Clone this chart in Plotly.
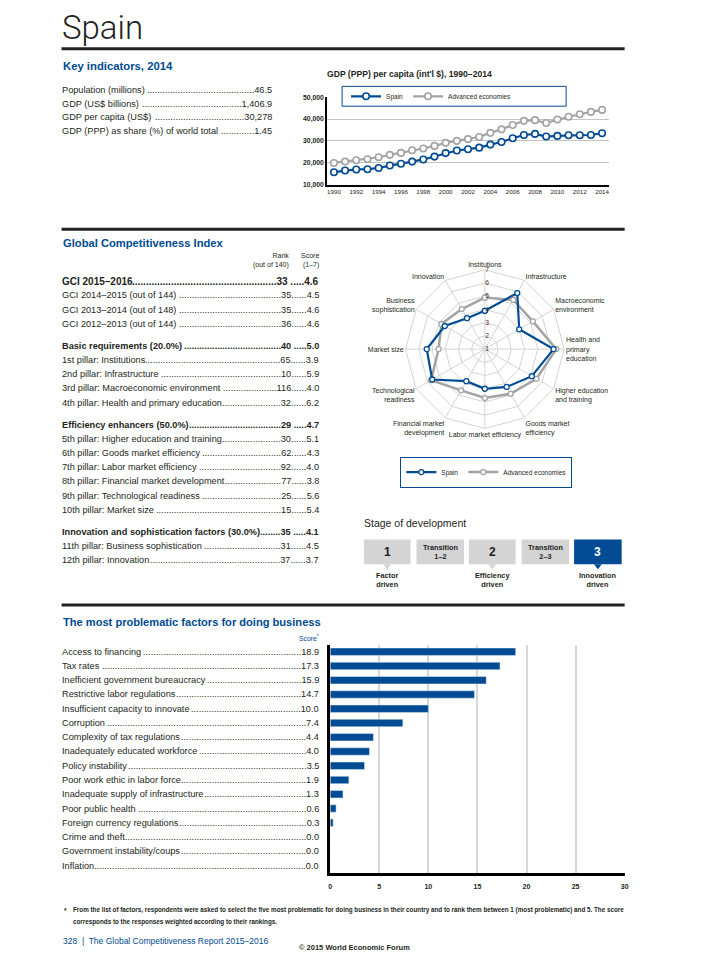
import plotly.graph_objects as go

# Page is drawn with the browser's 8px body margin, so the figure is sized to fit
OFF = 8
W, H = 695, 944
def px(x): return (x - OFF) / W
def py(y): return 1 - (y - OFF) / H

FONT = "Liberation Sans, Arial, sans-serif"
BLUE = "#004b93"
GREY = "#a3a3a3"
DARK = "#231f20"
LEFT = 59.5

# ---------------- data ----------------
years = list(range(1990, 2015))
gdp_spain = [15650, 16400, 16900, 17000, 17600, 18700, 19500, 20500, 21500, 22800,
             24400, 25600, 26200, 26900, 28300, 29500, 31200, 32700, 33200, 32000,
             32300, 32600, 32600, 32700, 33500]
gdp_adv = [19900, 20500, 21100, 21600, 22500, 23600, 24500, 25700, 26500, 27700,
           29100, 30000, 30800, 31800, 33700, 35300, 37300, 39200, 39500, 38200,
           39800, 41100, 42200, 43300, 44200]
gdp_ticks = [10000, 20000, 30000, 40000, 50000]

key_labels = ["Population (millions)", "GDP (US$ billions)", "GDP per capita (US$)",
              "GDP (PPP) as share (%) of world total"]
key_values = ["46.5", "1,406.9", "30,278", "1.45"]

gci_labels = ["GCI 2015–2016", "GCI 2014–2015 (out of 144)", "GCI 2013–2014 (out of 148)",
              "GCI 2012–2013 (out of 144)",
              "Basic requirements (20.0%)", "1st pillar: Institutions", "2nd pillar: Infrastructure",
              "3rd pillar: Macroeconomic environment", "4th pillar: Health and primary education",
              "Efficiency enhancers (50.0%)", "5th pillar: Higher education and training",
              "6th pillar: Goods market efficiency", "7th pillar: Labor market efficiency",
              "8th pillar: Financial market development", "9th pillar: Technological readiness",
              "10th pillar: Market size",
              "Innovation and sophistication factors (30.0%)", "11th pillar: Business sophistication",
              "12th pillar: Innovation"]
gci_ranks = ["33", "35", "35", "36", "40", "65", "10", "116", "32", "29", "30", "62", "92",
             "77", "25", "15", "35", "31", "37"]
gci_scores = ["4.6", "4.5", "4.6", "4.6", "5.0", "3.9", "5.9", "4.0", "6.2", "4.7", "5.1",
              "4.3", "4.0", "3.8", "5.6", "5.4", "4.1", "4.5", "3.7"]
gci_group = [0, 0, 0, 0, 1, 1, 1, 1, 1, 2, 2, 2, 2, 2, 2, 2, 3, 3, 3]
gci_bold = [True, False, False, False, True, False, False, False, False, True, False, False,
            False, False, False, False, True, False, False]

pillar_labels = ["Institutions", "Infrastructure", "Macroeconomic<br>environment",
                 "Health and<br>primary<br>education", "Higher education<br>and training",
                 "Goods market<br>efficiency", "Labor market efficiency",
                 "Financial market<br>development", "Technological<br>readiness",
                 "Market size", "Business<br>sophistication", "Innovation"]
spain_scores = [3.9, 5.9, 4.0, 6.2, 5.1, 4.3, 4.0, 3.8, 5.6, 5.4, 4.5, 3.7]
adv_scores = [4.9, 5.3, 5.2, 6.4, 5.5, 4.9, 4.7, 4.6, 5.7, 4.5, 4.8, 4.5]
radial_ticks = [1, 2, 3, 4, 5, 6, 7]

factors = ["Access to financing", "Tax rates", "Inefficient government bureaucracy",
           "Restrictive labor regulations", "Insufficient capacity to innovate", "Corruption",
           "Complexity of tax regulations", "Inadequately educated workforce", "Policy instability",
           "Poor work ethic in labor force", "Inadequate supply of infrastructure",
           "Poor public health", "Foreign currency regulations", "Crime and theft",
           "Government instability/coups", "Inflation"]
factor_scores = [18.9, 17.3, 15.9, 14.7, 10.0, 7.4, 4.4, 4.0, 3.5, 1.9, 1.3, 0.6, 0.3, 0.0, 0.0, 0.0]

stages = ["1", "Transition<br>1–2", "2", "Transition<br>2–3", "3"]
stage_captions = ["Factor<br>driven", "", "Efficiency<br>driven", "", "Innovation<br>driven"]
current_stage = 4

# ---------------- text width helper (Helvetica/Arial metrics) ----------------
_REG = {' ': 278, '(': 333, ')': 333, '%': 889, '.': 278, ',': 278, '-': 333, ':': 278,
        '/': 278, '–': 556, '$': 556, "'": 191}
_BLD = {' ': 278, '(': 333, ')': 333, '%': 889, '.': 278, ',': 278, '-': 333, ':': 333,
        '/': 278, '–': 556, '$': 556}
for c in "0123456789":
    _REG[c] = 556; _BLD[c] = 556
_REG.update(dict(zip("ABCDEFGHIJKLMNOPQRSTUVWXYZ",
                     [667, 667, 722, 722, 667, 611, 778, 722, 278, 500, 667, 556, 833, 722, 778,
                      667, 778, 722, 667, 611, 722, 667, 944, 667, 667, 611])))
_REG.update(dict(zip("abcdefghijklmnopqrstuvwxyz",
                     [556, 556, 500, 556, 556, 278, 556, 556, 222, 222, 500, 222, 833, 556, 556,
                      556, 556, 333, 500, 278, 556, 500, 722, 500, 500, 500])))
_BLD.update(dict(zip("ABCDEFGHIJKLMNOPQRSTUVWXYZ",
                     [722, 722, 722, 722, 667, 611, 778, 722, 278, 556, 722, 611, 833, 722, 778,
                      667, 778, 722, 667, 611, 722, 667, 944, 667, 667, 611])))
_BLD.update(dict(zip("abcdefghijklmnopqrstuvwxyz",
                     [556, 611, 556, 611, 556, 333, 611, 611, 278, 278, 556, 278, 889, 611, 611,
                      611, 611, 389, 556, 333, 611, 556, 778, 556, 556, 500])))

def text_width(s, size, bold=False):
    t = _BLD if bold else _REG
    return sum(t.get(c, 556) for c in s) * size / 1000.0

fig = go.Figure()

# GDP lines
fig.add_trace(go.Scatter(x=years, y=gdp_spain, mode="lines+markers", name="Spain",
                         line=dict(color=BLUE, width=2.2),
                         marker=dict(symbol="circle", size=6.5, color="white",
                                     line=dict(color=BLUE, width=1.6)),
                         xaxis="x", yaxis="y", legend="legend"))
fig.add_trace(go.Scatter(x=years, y=gdp_adv, mode="lines+markers", name="Advanced economies",
                         line=dict(color=GREY, width=2.2),
                         marker=dict(symbol="circle", size=6.5, color="white",
                                     line=dict(color=GREY, width=1.6)),
                         xaxis="x", yaxis="y", legend="legend"))

# Radar
fig.add_trace(go.Scatterpolar(r=adv_scores + adv_scores[:1], theta=pillar_labels + pillar_labels[:1],
                              mode="lines+markers", name="Advanced economies",
                              line=dict(color=GREY, width=2.5),
                              marker=dict(size=5, color="white", line=dict(color=GREY, width=1.3)),
                              subplot="polar", legend="legend2"))
fig.add_trace(go.Scatterpolar(r=spain_scores + spain_scores[:1], theta=pillar_labels + pillar_labels[:1],
                              mode="lines+markers", name="Spain",
                              line=dict(color=BLUE, width=2.2),
                              marker=dict(size=5, color="white", line=dict(color=BLUE, width=1.3)),
                              subplot="polar", legend="legend2"))

# Bars
fig.add_trace(go.Bar(x=factor_scores, y=factors, orientation="h", marker_color=BLUE,
                     width=0.52, xaxis="x2", yaxis="y2", showlegend=False))

ann = []
shapes = []

def text(x, y, s, size=9.2, color=DARK, xanchor="left", yanchor="middle", bold=False, **kw):
    if bold:
        s = "<b>" + s + "</b>"
    ann.append(dict(x=px(x), y=py(y), xref="paper", yref="paper", text=s, showarrow=False,
                    xanchor=xanchor, yanchor=yanchor, font=dict(family=FONT, size=size, color=color),
                    **kw))

def leader_row(y, label, right_text, right_x, size=9.2, bold=False, yref="paper", ycat=None):
    name_w = text_width(label, size, bold)
    val_w = text_width(right_text, size, bold)
    dot_w = text_width(".", size, bold)
    n = max(0, int((right_x - LEFT - name_w - val_w - 4) / dot_w))
    dots = "." * n + right_text
    lab = label
    if bold:
        dots = "<b>" + dots + "</b>"
        lab = "<b>" + lab + "</b>"
    yy = py(y) if ycat is None else ycat
    ann.append(dict(x=px(LEFT), y=yy, xref="paper", yref=yref, text=lab, showarrow=False,
                    xanchor="left", yanchor="middle", borderpad=0,
                    font=dict(family=FONT, size=size, color=DARK)))
    ann.append(dict(x=px(right_x), y=yy, xref="paper", yref=yref, text=dots, showarrow=False,
                    xanchor="right", yanchor="middle", borderpad=0,
                    font=dict(family=FONT, size=size, color=DARK)))

# Title and rules
ann.append(dict(x=px(59), y=py(24), xref="paper", yref="paper", text="Spain", showarrow=False,
                xanchor="left", yanchor="middle", borderpad=0,
                font=dict(family="Roboto, Liberation Sans, sans-serif", size=33, color=DARK, weight=300)))
for yy in (45, 227, 606):
    shapes.append(dict(type="line", xref="paper", yref="paper", x0=px(60), x1=px(628),
                       y0=py(yy), y1=py(yy), line=dict(color=DARK, width=3)))

# Key indicators
text(59, 62, "Key indicators, 2014", size=11.3, color=BLUE, bold=True)
for i, (lab, val) in enumerate(zip(key_labels, key_values)):
    leader_row(86.5 + i * 13.8, lab, val, 273)

# GDP chart title + legend box
text(326, 71, "GDP (PPP) per capita (int'l $), 1990–2014", size=8.6, bold=True)
shapes.append(dict(type="rect", xref="paper", yref="paper", x0=px(343), x1=px(569),
                   y0=py(83), y1=py(103), line=dict(color=BLUE, width=1)))

# GCI
text(59, 241, "Global Competitiveness Index", size=11.2, color=BLUE, bold=True)
text(291, 259, "Rank<br>(out of 140)", size=7, xanchor="right", align="right")
text(322, 259, "Score<br>(1–7)", size=7, xanchor="right", align="right")
y = 279.5
prev_g = 0
for i, lab in enumerate(gci_labels):
    if i > 0:
        y += 14.3 + (8 if gci_group[i] != prev_g else 0)
    prev_g = gci_group[i]
    sep = " ....." if gci_bold[i] else "......"
    sz = 10 if i == 0 else 9.2
    leader_row(y, lab, gci_ranks[i] + sep + gci_scores[i], 321, size=sz, bold=gci_bold[i])

# Stage of development
text(363, 523, "Stage of development", size=10.5, color=DARK)
box_x = [(365, 412), (418, 466), (471, 518), (524, 572), (577, 625)]
for i, (x0, x1) in enumerate(box_x):
    col = BLUE if i == current_stage else "#d4d4d4"
    shapes.append(dict(type="rect", xref="paper", yref="paper", x0=px(x0), x1=px(x1),
                       y0=py(565), y1=py(540), fillcolor=col, line=dict(width=0)))
    cx = (x0 + x1) / 2
    big = len(stages[i]) == 1
    text(cx, 553, stages[i], size=12 if big else 7.3, bold=True, xanchor="center",
         color="white" if i == current_stage else DARK)
    if stage_captions[i]:
        shapes.append(dict(type="path", xref="paper", yref="paper",
                           path=f"M {px(cx-4)},{py(565)} L {px(cx+4)},{py(565)} L {px(cx)},{py(570)} Z",
                           fillcolor=col, line=dict(width=0)))
        text(cx, 581, stage_captions[i], size=7.3, bold=True, xanchor="center")

# Problematic factors
text(59, 623, "The most problematic factors for doing business", size=11.1, color=BLUE, bold=True)
text(322, 639, "Score<sup>*</sup>", size=6.8, color=BLUE, xanchor="right")
for lab, val in zip(factors, factor_scores):
    leader_row(0, lab, f"{val:.1f}", 321, yref="y2", ycat=lab)

# Footnotes
text(60, 914, "<b>*</b>", size=6.5)
text(70, 914, "From the list of factors, respondents were asked to select the five most problematic for doing business in their country and to rank them between 1 (most problematic) and 5. The score",
     size=6.3, bold=True)
text(70, 926, "corresponds to the responses weighted according to their rankings.", size=6.3, bold=True)
text(59, 945, "328  |  The Global Competitiveness Report 2015–2016", size=8.5, color=BLUE)
text(355, 951, "© 2015 World Economic Forum", size=7.5, bold=True, xanchor="center")

fig.update_layout(
    width=W, height=H, margin=dict(l=0, r=0, t=0, b=0),
    paper_bgcolor="white", plot_bgcolor="white",
    font=dict(family=FONT, color=DARK),
    annotations=ann, shapes=shapes,
    xaxis=dict(domain=[px(328), px(612)], range=[1989.4, 2014.6], tickvals=years[::2],
               showgrid=False, zeroline=False, showline=True, linecolor="black", linewidth=2,
               ticks="", tickfont=dict(size=6.2, color=DARK), anchor="y"),
    yaxis=dict(domain=[py(182), py(94)], range=[10000, 50000], tickvals=gdp_ticks,
               tickformat=",", gridcolor="#c4c4c4", gridwidth=1, zeroline=False,
               showline=True, linecolor="black", linewidth=2, ticks="",
               tickfont=dict(size=6.8, color=DARK, weight="bold"), anchor="x"),
    xaxis2=dict(domain=[px(331), px(628)], range=[0, 30], dtick=5, gridcolor="#d6d6d6",
                gridwidth=1.5, zeroline=False, showline=True, linecolor="black", linewidth=2.5,
                ticks="", ticklabelstandoff=5,
                tickfont=dict(size=7, color=DARK, weight="bold"), anchor="y2"),
    yaxis2=dict(domain=[py(876), py(646)], range=[15.5, -0.5], type="category",
                categoryorder="array", categoryarray=factors, showticklabels=False,
                showgrid=False, zeroline=False, showline=True, linecolor="black",
                linewidth=2.5, ticks="", anchor="x2"),
    polar=dict(domain=dict(x=[px(407), px(567)], y=[py(428), py(268)]),
               bgcolor="white", gridshape="linear",
               radialaxis=dict(range=[1, 7], tickvals=radial_ticks, angle=90, showline=False,
                               gridcolor="#d4d4d4", gridwidth=1, ticks="",
                               tickfont=dict(size=6.8, color="#5b2b1f"), tickangle=90),
               angularaxis=dict(direction="clockwise", rotation=90, type="category",
                                categoryarray=pillar_labels, gridcolor="#d4d4d4",
                                linecolor="#d4d4d4", linewidth=1, ticks="",
                                tickfont=dict(size=7, color=DARK))),
    legend=dict(x=px(347), y=py(93), xanchor="left", yanchor="middle", orientation="h",
                bgcolor="rgba(0,0,0,0)", font=dict(family=FONT, size=6.5, color=DARK),
                itemwidth=30, tracegroupgap=0),
    legend2=dict(x=px(488.5), y=py(472), xanchor="center", yanchor="middle", orientation="h",
                 bgcolor="white", bordercolor=BLUE, borderwidth=1,
                 font=dict(family=FONT, size=6.5, color=DARK), itemwidth=30,
                 traceorder="reversed"),
)

fig.write_html("out.html")
